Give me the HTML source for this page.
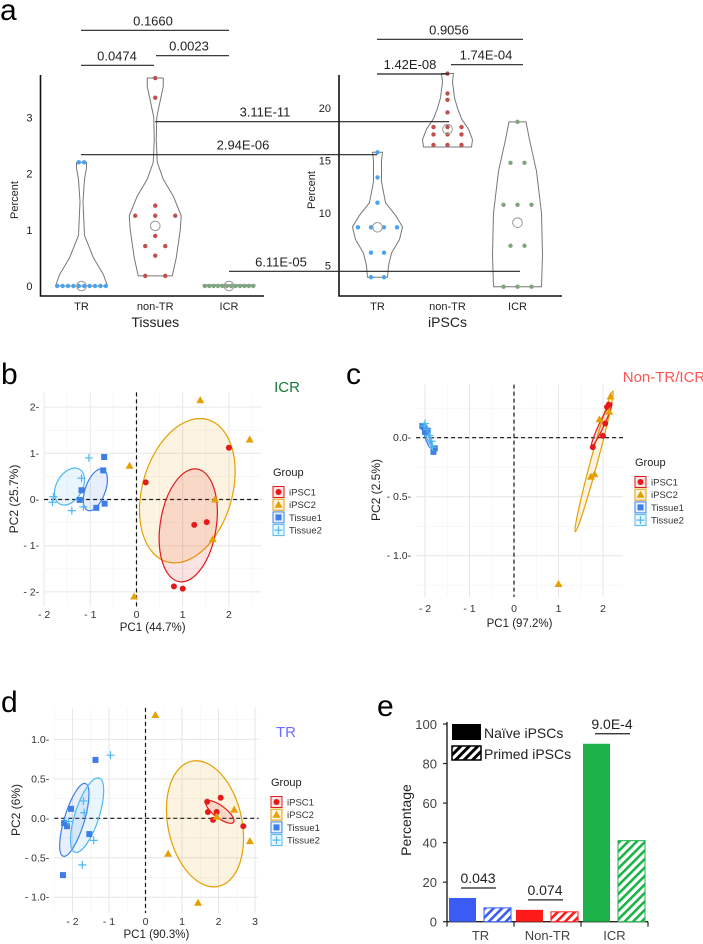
<!DOCTYPE html>
<html><head><meta charset="utf-8"><style>
html,body{margin:0;padding:0;background:#fff;}
svg{display:block;font-family:"Liberation Sans",Arial,sans-serif;}
</style></head><body>
<svg id="fig" width="703" height="944" viewBox="0 0 703 944" xmlns="http://www.w3.org/2000/svg">
<defs>
<pattern id="hatchK" patternUnits="userSpaceOnUse" width="6" height="6" patternTransform="rotate(45)"><rect width="6" height="6" fill="#fff"/><rect width="3" height="6" fill="#000"/></pattern>
<pattern id="hatchB" patternUnits="userSpaceOnUse" width="6" height="6" patternTransform="rotate(45)"><rect width="6" height="6" fill="#fff"/><rect width="2.6" height="6" fill="#3a5cf5"/></pattern>
<pattern id="hatchR" patternUnits="userSpaceOnUse" width="6" height="6" patternTransform="rotate(45)"><rect width="6" height="6" fill="#fff"/><rect width="2.6" height="6" fill="#ff1a1a"/></pattern>
<pattern id="hatchG" patternUnits="userSpaceOnUse" width="6" height="6" patternTransform="rotate(45)"><rect width="6" height="6" fill="#fff"/><rect width="2.6" height="6" fill="#1db34a"/></pattern>
</defs>
</svg>
<script>
// ---------- Panel a data ----------
const aCats = ['TR','non-TR','ICR'];
const tisTR = [0,0,0,0,0,0,0,0,0,0,2.2,2.2];
const tisNonTR = [3.7,3.35,1.43,1.25,1.25,1.25,0.89,0.71,0.71,0.54,0.18,0.18];
const tisICR = [0,0,0,0,0,0,0,0,0,0,0,0];
const ipsTR = [15.8,13.4,11,8.66,8.66,8.66,8.66,6.24,6.24,3.9,3.9];
const ipsNonTR = [23.3,21.4,20.8,19.6,18.2,18.2,18.2,17.5,17.5,17.5,16.5,16.5,16.5];
const ipsICR = [18.7,14.8,14.8,10.8,10.8,10.8,6.9,6.9,3,3,3];
const tisMeans = [0,1.07,0];
const ipsMeans = [8.66,18,9.1];
const tisTicks = [0,1,2,3];
const ipsTicks = [5,10,15,20];
// violin density half-widths [value, width]
const vTisTR = [[0,26],[0.2,22],[0.5,12],[0.9,3],[1.5,1.5],[1.9,3],[2.1,5],[2.2,5]];
const vTisNonTR = [[0.18,17],[0.5,21],[1.0,25],[1.25,26],[1.6,18],[1.9,8],[2.2,2],[2.6,1],[3.0,1.5],[3.3,5],[3.55,8],[3.7,8]];
const vTisICR = [[0,26],[0.02,26]];
const vIpsTR = [[3.9,10],[5,11],[6.2,14],[7.5,22],[8.7,25],[9.8,18],[11,8],[13,4],[15,4],[15.8,5]];
const vIpsNonTR = [[16.3,24],[17,25],[18,21],[19,14],[20,10],[21,7],[22.5,5],[23.3,6]];
const vIpsICR = [[3,24],[6,25],[10,24],[14,19],[17,12],[18.7,8.5]];
// ---------- Panel b/c/d data ----------
const b_iPSC1 = [[0.2,0.37],[2.0,1.12],[1.25,-0.55],[1.52,-0.49],[0.81,-1.88],[1.0,-1.93]];
const b_iPSC2 = [[1.38,2.15],[2.45,1.3],[-0.15,0.73],[1.7,0.0],[1.65,-0.86],[-0.05,-2.1]];
const b_Tissue1 = [[-0.7,0.92],[-0.72,0.63],[-1.19,0.2],[-1.23,-0.01],[-0.87,-0.18],[-0.69,-0.09]];
const b_Tissue2 = [[-1.03,0.9],[-1.19,0.46],[-1.8,0.06],[-1.82,-0.06],[-1.4,-0.24],[-1.15,-0.16]];
const c_iPSC1 = [[2.09,0.26],[2.13,0.28],[2.05,0.12],[2.0,0.015],[1.77,-0.08]];
const c_iPSC2 = [[1.92,0.155],[1.73,-0.33],[1.81,-0.31],[2.17,0.35],[2.14,0.22],[1.0,-1.24]];
const c_Tissue1 = [[-2.06,0.1],[-2.0,0.05],[-1.81,-0.12],[-1.78,-0.09],[-1.94,0.06],[-2.03,0.09]];
const c_Tissue2 = [[-2.0,0.12],[-1.95,0.07],[-1.9,0.02],[-1.85,-0.03],[-2.02,0.1],[-1.83,-0.08]];
const d_iPSC1 = [[1.69,0.21],[2.06,0.26],[1.71,0.08],[1.95,0.08],[1.85,-0.02],[2.68,-0.1]];
const d_iPSC2 = [[0.27,1.31],[2.43,0.11],[2.86,-0.29],[0.62,-0.45],[1.44,-1.07],[1.95,0.02]];
const d_Tissue1 = [[-1.37,0.74],[-2.04,0.12],[-2.23,-0.06],[-2.15,-0.1],[-1.54,-0.2],[-2.26,-0.72]];
const d_Tissue2 = [[-0.96,0.8],[-1.7,0.22],[-1.68,0.07],[-2.11,-0.04],[-1.42,-0.28],[-1.73,-0.59]];
// ---------- Panel e data ----------
const eCats = ['TR','Non-TR','ICR'];
const eNaive = [12,6,90];
const ePrimed = [7,5,41];
const eTicks = [0,20,40,60,80,100];
const ePvals = ['0.043','0.074','9.0E-4'];

const NS='http://www.w3.org/2000/svg';
const svg=document.getElementById('fig');
function mk(tag,attrs,parent){const e=document.createElementNS(NS,tag);for(const k in attrs)e.setAttribute(k,attrs[k]);(parent||svg).appendChild(e);return e;}
function tx(x,y,s,size,opts,parent){opts=opts||{};const e=mk('text',Object.assign({x:x,y:y,'font-size':size,fill:'#222'},opts),parent);e.textContent=s;return e;}

// panel letters
[['a',0,20],['b',1,384],['c',346,384],['d',1,712],['e',377,716]].forEach(p=>{
  const t=tx(p[1],p[2],p[0],30,{fill:'#000'});
  
  
});

// ======== Panel a ========
const gA=mk('g',{});


const yT=v=>286-v*56.2;
const yI=v=>265.7-(v-5)*10.5;
const xT=i=>81.5+i*73.75;
const xI=i=>377.5+i*70;
function axesA(x0,x1,yf,ticks,xf,title,tname){
  const ax=mk('path',{d:`M${x0},75 V296 H${x1}`,stroke:'#111','stroke-width':1.6,fill:'none'},gA);
  
  
  ticks.forEach(t=>{
    const l=tx(x0-8,yf(t)+4,String(t),11,{'text-anchor':'end'},gA);
    
    
  });
  aCats.forEach((c,i)=>{
    const l=tx(xf(i),310,c,11,{'text-anchor':'middle'},gA);
    
    
  });
  const tl=tx((xf(0)+xf(2))/2,327,title,14,{'text-anchor':'middle'},gA);
  
  
}
axesA(40.5,264,yT,tisTicks,xT,'Tissues','tissues');
axesA(339,562,yI,ipsTicks,xI,'iPSCs','ipscs');
[[18,200],[315,190]].forEach((p,i)=>{
  const t=tx(p[0],p[1],'Percent',11,{'text-anchor':'middle',transform:`rotate(-90 ${p[0]} ${p[1]})`},gA);
  
  
});
function violin(prof,cx,yf,name){
  let r=prof.map(p=>`${cx+p[1]},${yf(p[0])}`);
  let l=prof.slice().reverse().map(p=>`${cx-p[1]},${yf(p[0])}`);
  const e=mk('polygon',{points:r.concat(l).join(' '),fill:'none',stroke:'#777','stroke-width':1,'stroke-linejoin':'round'},gA);
  
  
}
function dots(vals,cx,yf,col,step,name){
  const groups={};
  vals.forEach(v=>{const k=v.toFixed(2);(groups[k]=groups[k]||[]).push(v);});
  Object.keys(groups).forEach(k=>{
    const g=groups[k];const n=g.length;
    g.forEach((v,j)=>{
      const c=mk('circle',{cx:cx+(j-(n-1)/2)*step,cy:yf(v),r:2.2,fill:col},gA);
      
      
    });
  });
}
function meanC(v,cx,yf,name){
  const c=mk('circle',{cx:cx,cy:yf(v),r:4.8,fill:'none',stroke:'#999','stroke-width':1},gA);
  
  
}
const BLU='#4aa3ee',RED='#c0504d',GRN='#7fa57f';
violin(vTisTR,xT(0),yT,'tissue-tr');violin(vTisNonTR,xT(1),yT,'tissue-nontr');violin(vTisICR,xT(2),yT,'tissue-icr');
violin(vIpsTR,xI(0),yI,'ipsc-tr');violin(vIpsNonTR,xI(1),yI,'ipsc-nontr');violin(vIpsICR,xI(2),yI,'ipsc-icr');
dots(tisTR,xT(0),yT,BLU,5.4,'tissue-tr');dots(tisNonTR,xT(1),yT,RED,20,'tissue-nontr');dots(tisICR,xT(2),yT,GRN,4.4,'tissue-icr');
dots(ipsTR,xI(0),yI,BLU,13,'ipsc-tr');dots(ipsNonTR,xI(1),yI,RED,14,'ipsc-nontr');dots(ipsICR,xI(2),yI,GRN,14,'ipsc-icr');
tisMeans.forEach((m,i)=>meanC(m,xT(i),yT,'tissue-'+i));
ipsMeans.forEach((m,i)=>meanC(m,xI(i),yI,'ipsc-'+i));
// significance brackets: [label, x1, x2, lineY, labelX]
const brackets=[['0.1660',81,229,30.3,153],['0.0474',81,154,65.3,117],['0.0023',156,229,55.7,189],
 ['3.11E-11',155,449,121.7,265],['2.94E-06',81,377,154.7,243],['6.11E-05',229,520,271.3,281],
 ['0.9056',377,523,39.3,449],['1.42E-08',377,449,74,410],['1.74E-04',451,523,64.7,486]];
brackets.forEach(b=>{
  const l=mk('line',{x1:b[1],x2:b[2],y1:b[3],y2:b[3],stroke:'#222','stroke-width':1.2},gA);
  
  
  const t=tx(b[4],b[3]-5,b[0],13,{'text-anchor':'middle'},gA);
  
  
});

// ======== PCA panels ========
const C_RED='#e31a1c',C_ORG='#e69f00',C_T1='#3d7fe6',C_T2='#4fb8f0';
function pca(cfg){
  const g=mk('g',{});
  
  
  const X=v=>cfg.x0+v*cfg.sx, Y=v=>cfg.y0-v*cfg.sy;
  const L=X(cfg.xr[0]),R=X(cfg.xr[1]),T=Y(cfg.yr[1]),B=Y(cfg.yr[0]);
  // grid
  const minors=[];
  for(let v=Math.ceil(cfg.xr[0]/cfg.xs*2)*cfg.xs/2; v<=cfg.xr[1]; v+=cfg.xs/2) minors.push(['x',v]);
  for(let v=Math.ceil(cfg.yr[0]/cfg.ys*2)*cfg.ys/2; v<=cfg.yr[1]; v+=cfg.ys/2) minors.push(['y',v]);
  minors.forEach(m=>{
    const isMaj=Math.abs(Math.round(m[1]/(m[0]=='x'?cfg.xs:cfg.ys))-(m[1]/(m[0]=='x'?cfg.xs:cfg.ys)))<1e-6;
    const a=m[0]=='x'?{x1:X(m[1]),x2:X(m[1]),y1:T,y2:B}:{x1:L,x2:R,y1:Y(m[1]),y2:Y(m[1])};
    const l=mk('line',Object.assign(a,{stroke:isMaj?'#e6e6e6':'#f2f2f2','stroke-width':isMaj?1:0.6}),g);
    
    
  });
  const h=mk('line',{x1:L,x2:R,y1:Y(0),y2:Y(0),stroke:'#111','stroke-dasharray':'4,3','stroke-width':1.2},g);
  
  
  const vl=mk('line',{x1:X(0),x2:X(0),y1:T,y2:B,stroke:'#111','stroke-dasharray':'4,3','stroke-width':1.2},g);
  
  
  cfg.xt.forEach(t=>{
    const l=tx(X(t),cfg.xty,(t<0?'- ':'')+Math.abs(t),10.5,{'text-anchor':'middle',fill:'#333'},g);
    
    
  });
  cfg.yt.forEach(t=>{
    const s=(t<0?'- ':'')+Math.abs(t).toFixed(cfg.yd);
    const l=tx(L-5,Y(t)+3.5,s+'-',10.5,{'text-anchor':'end',fill:'#333'},g);
    
    
  });
  const xt=tx((L+R)/2,cfg.xlab[1],cfg.xlab[0],11.5,{'text-anchor':'middle',fill:'#222'},g);
  
  
  const yt=tx(cfg.ylab[1],cfg.ylab[2],cfg.ylab[0],12,{'text-anchor':'middle',fill:'#222',transform:`rotate(-90 ${cfg.ylab[1]} ${cfg.ylab[2]})`},g);
  
  
  const tt=tx(cfg.title[1],cfg.title[2],cfg.title[0],15,{'text-anchor':'middle',fill:cfg.title[3]},g);
  
  
  // ellipses [cx,cy,rx,ry,angle,color]
  cfg.ell.forEach(e=>{
    const el=mk('ellipse',{cx:X(e[0]),cy:Y(e[1]),rx:e[2],ry:e[3],transform:`rotate(${e[4]} ${X(e[0])} ${Y(e[1])})`,fill:e[5],'fill-opacity':0.12,stroke:e[5],'stroke-width':1.2},g);
    
    
  });
  function mark(kind,x,y,col,pg){
    let e;
    if(kind==0) e=mk('circle',{cx:x,cy:y,r:3,fill:col},pg);
    else if(kind==1) e=mk('polygon',{points:`${x},${y-4} ${x+4},${y+3} ${x-4},${y+3}`,fill:col},pg);
    else if(kind==2) e=mk('rect',{x:x-3,y:y-3,width:6,height:6,fill:col},pg);
    else e=mk('path',{d:`M${x-4},${y} H${x+4} M${x},${y-4} V${y+4}`,stroke:col,'stroke-width':1.2},pg);
    return e;
  }
  const sets=[[cfg.p[0],0,C_RED,'ipsc1'],[cfg.p[1],1,C_ORG,'ipsc2'],[cfg.p[2],2,C_T1,'tissue1'],[cfg.p[3],3,C_T2,'tissue2']];
  sets.forEach(s=>s[0].forEach(p=>{
    const m=mark(s[1],X(p[0]),Y(p[1]),s[2],g);
    
    
  }));
  // legend
  const lg=mk('g',{},g);
  
  
  const gt=tx(cfg.leg[0],cfg.leg[1],'Group',11,{fill:'#222'},lg);
  
  
  ['iPSC1','iPSC2','Tissue1','Tissue2'].forEach((n,i)=>{
    const yy=cfg.leg[1]+16+i*12.7, xx=cfg.leg[0];
    const col=sets[i][2];
    const bx=mk('rect',{x:xx,y:yy-5.5,width:11,height:11,fill:col,'fill-opacity':0.12,stroke:col,'stroke-width':1},lg);
    
    
    const m=mark(i,xx+5.5,yy,col,lg);
    
    
    const t=tx(xx+16,yy+3.5,n,9.5,{fill:'#333'},lg);
    
    
  });
}
pca({id:'b',x0:136.5,sx:46.2,y0:499.5,sy:46.2,xr:[-2.0,2.7],yr:[-2.32,2.32],xs:1,ys:1,xt:[-2,-1,0,1,2],yt:[-2,-1,0,1,2],yd:0,xty:618,
  xlab:['PC1 (44.7%)',631],ylab:['PC2 (25.7%)',18,499],title:['ICR',287,392,'#1a7a3a'],
  ell:[[1.1,0.19,45,74,16,C_ORG],[1.12,-0.56,28,57,9,C_RED],[-0.89,0.21,10,22,20,C_T1],[-1.45,0.28,13,20,30,C_T2]],
  p:[b_iPSC1,b_iPSC2,b_Tissue1,b_Tissue2],leg:[273,476]});
pca({id:'c',x0:514,sx:44.5,y0:437.7,sy:118,xr:[-2.2,2.45],yr:[-1.35,0.45],xs:1,ys:0.5,xt:[-2,-1,0,1,2],yt:[0,-0.5,-1],yd:1,xty:612,
  xlab:['PC1 (97.2%)',627],ylab:['PC2 (2.5%)',380,490],title:['Non-TR/ICR',664,382,'#ff5555'],
  ell:[[1.8,-0.2,3.5,73,15,C_ORG],[1.97,0.11,2.5,24,25,C_RED],[-1.95,0.0,2,11,-20,C_T1],[-1.93,0.02,2,11,-20,C_T2]],
  p:[c_iPSC1,c_iPSC2,c_Tissue1,c_Tissue2],leg:[635,466]});
pca({id:'d',x0:145.5,sx:36.5,y0:818.3,sy:78.9,xr:[-2.5,3.1],yr:[-1.2,1.4],xs:1,ys:0.5,xt:[-2,-1,0,1,2,3],yt:[1,0.5,0,-0.5,-1],yd:1,xty:925,
  xlab:['PC1 (90.3%)',938],ylab:['PC2 (6%)',20,810],title:['TR',286,737,'#6b6bff'],
  ell:[[1.63,-0.07,37,64,-12,C_ORG],[2.04,0.08,6,17,-53,C_RED],[-1.95,-0.02,10,38,17,C_T1],[-1.6,0.04,12,39,18,C_T2]],
  p:[d_iPSC1,d_iPSC2,d_Tissue1,d_Tissue2],leg:[271,786]});

// ======== Panel e ========
const gE=mk('g',{});


const eY=v=>921.7-v*1.977;
const eX0=447,eGW=67,eBW=27;
const eCols=['#3a5cf5','#ff1a1a','#1db34a'],eHatch=['url(#hatchB)','url(#hatchR)','url(#hatchG)'];
const eax=mk('path',{d:`M${eX0},722 V${eY(0)} H648`,stroke:'#222','stroke-width':1.4,fill:'none'},gE);


eTicks.forEach(t=>{
  const tk=mk('line',{x1:eX0-4,x2:eX0,y1:eY(t),y2:eY(t),stroke:'#222','stroke-width':1.2},gE);
  
  
  const l=tx(eX0-10,eY(t)+5,String(t),13,{'text-anchor':'end',fill:'#444'},gE);
  
  
});
[0,1,2,3].forEach(i=>{
  const tk=mk('line',{x1:eX0+i*eGW,x2:eX0+i*eGW,y1:eY(0),y2:eY(0)+5,stroke:'#222','stroke-width':1.2},gE);
  
  
});
const ey=tx(411,820,'Percentage',14,{'text-anchor':'middle',fill:'#222',transform:'rotate(-90 411 820)'},gE);


eCats.forEach((c,i)=>{
  const gx=eX0+i*eGW;
  const b1=mk('rect',{x:gx+2,y:eY(eNaive[i]),width:eBW,height:eY(0)-eY(eNaive[i]),fill:eCols[i]},gE);
  
  
  const b2=mk('rect',{x:gx+37,y:eY(ePrimed[i]),width:eBW,height:eY(0)-eY(ePrimed[i]),fill:eHatch[i],stroke:eCols[i],'stroke-width':1},gE);
  
  
  const l=tx(gx+33.5,940,c,13,{'text-anchor':'middle',fill:'#444'},gE);
  
  
  const top=eY(Math.max(eNaive[i],ePrimed[i]));
  const ln=mk('line',{x1:gx+14,x2:gx+49,y1:top-10,y2:top-10,stroke:'#222','stroke-width':1.3},gE);
  
  
  const pt=tx(gx+31,top-15,ePvals[i],14,{'text-anchor':'middle',fill:'#222'},gE);
  
  
});
const lk1=mk('rect',{x:452,y:724,width:29,height:16,fill:'#000'},gE);


const lk2=mk('rect',{x:452,y:746,width:29,height:14,fill:'url(#hatchK)',stroke:'#000','stroke-width':1.5},gE);


const lt1=tx(484,738,'Naïve iPSCs',14,{fill:'#222'},gE);


const lt2=tx(484,759,'Primed iPSCs',14,{fill:'#222'},gE);


</script>
</body></html>
